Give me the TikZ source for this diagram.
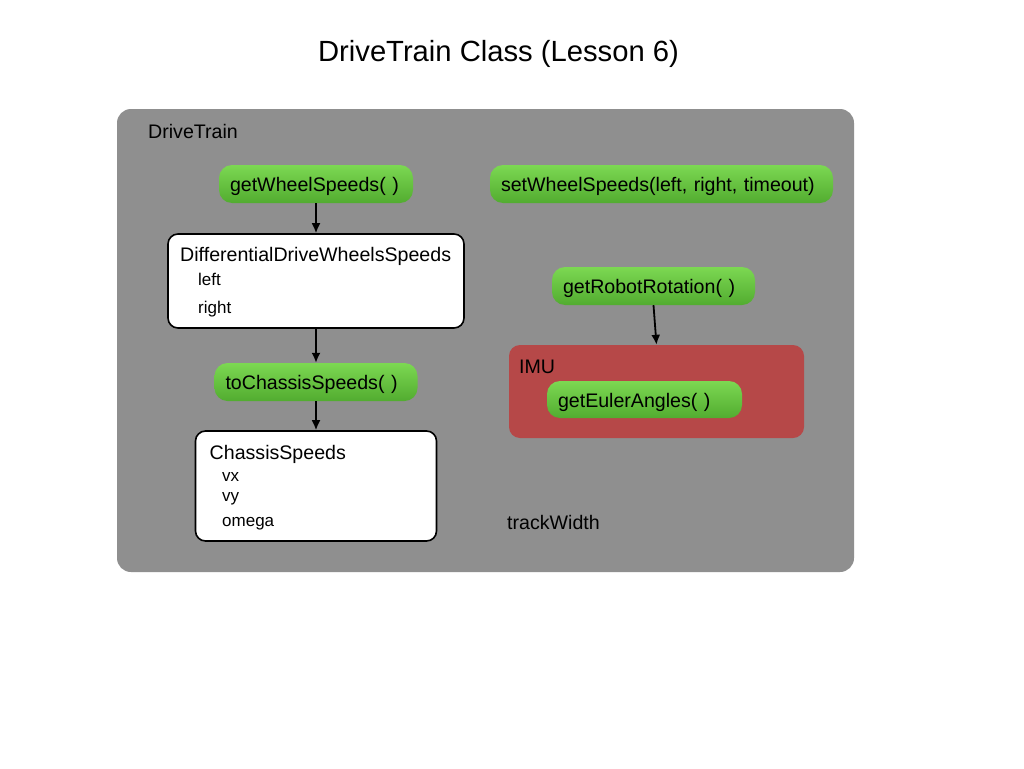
\documentclass[tikz,border=0pt]{standalone}
\usepackage{fontspec}
\setmainfont{Liberation Sans}
\usetikzlibrary{arrows.meta}
\definecolor{panelgray}{RGB}{143,143,143}
\definecolor{imured}{RGB}{182,72,72}
\definecolor{gtop}{RGB}{124,216,82}
\definecolor{gbot}{RGB}{82,172,48}
\tikzset{
  mainfont/.style={font=\fontsize{19.6}{23}\selectfont},
  smallfont/.style={font=\fontsize{17}{20}\selectfont},
  panel/.style={rectangle, rounded corners=14pt, fill=panelgray, draw=none, inner sep=0pt},
  redpanel/.style={rectangle, rounded corners=11pt, fill=imured, draw=none, inner sep=0pt},
  whitebox/.style={rectangle, rounded corners=10pt, fill=white, draw=black, line width=1.6pt, inner sep=0pt},
  greenbox/.style={rectangle, rounded corners=13pt, top color=gtop, bottom color=gbot, draw=none,
    mainfont, inner xsep=11pt, inner ysep=0pt, minimum height=38pt, align=left,
    text height=15pt, text depth=0pt},
  lbl/.style={mainfont, inner sep=0pt, anchor=base west},
  fld/.style={smallfont, inner sep=0pt, anchor=base west},
  arr/.style={-{Latex[length=10pt,width=9pt]}, line width=1.8pt, black},
}
\begin{document}
\begin{tikzpicture}[x=1pt,y=-1pt]
\useasboundingbox (0,0) rectangle (1024,768);
\fill[white] (0,0) rectangle (1024,768);

\node[font=\fontsize{29.2}{34}\selectfont, inner sep=0pt, anchor=base] (title) at (498.5,62) {DriveTrain Class (Lesson 6)};

\node[panel, minimum width=737pt, minimum height=463pt] (dt) at (485.5,340.5) {};
\node[lbl] (dtT) at (148,138) {DriveTrain};

\node[greenbox, text width=172pt] (gws) at (316,184) {getWheelSpeeds( )};
\node[greenbox, text width=321pt] (sws) at (661.5,184) {setWheelSpeeds(left, right, timeout)};

\node[whitebox, minimum width=296pt, minimum height=94pt] (ddws) at (316,281) {};
\node[lbl] (ddwsT) at (180,261.7) {DifferentialDriveWheelsSpeeds};
\node[fld] (ddwsL) at (198,285.7) {left};
\node[fld] (ddwsR) at (198,313) {right};

\node[greenbox, text width=181pt] (tcs) at (316,382) {toChassisSpeeds( )};

\node[whitebox, minimum width=241pt, minimum height=110pt] (cs) at (316,486) {};
\node[lbl] (csT) at (209.5,459) {ChassisSpeeds};
\node[fld] (csX) at (222,481.7) {vx};
\node[fld] (csY) at (222,501.7) {vy};
\node[fld] (csO) at (222,526.7) {omega};

\node[greenbox, text width=181pt] (grr) at (653.5,286) {getRobotRotation( )};

\node[redpanel, minimum width=295pt, minimum height=93pt] (imu) at (656.5,391.5) {};
\node[lbl] (imuT) at (519,373.3) {IMU};
\node[greenbox, text width=173pt, minimum height=37pt] (gea) at (644.5,399.5) {getEulerAngles( )};

\node[lbl] (tw) at (507,529.3) {trackWidth};

\draw[arr] (gws.south) -- (ddws.north);
\draw[arr] (ddws.south) -- (tcs.north);
\draw[arr] (tcs.south) -- (cs.north);
\draw[arr] (grr.south) -- (imu.north);
\end{tikzpicture}
\end{document}
